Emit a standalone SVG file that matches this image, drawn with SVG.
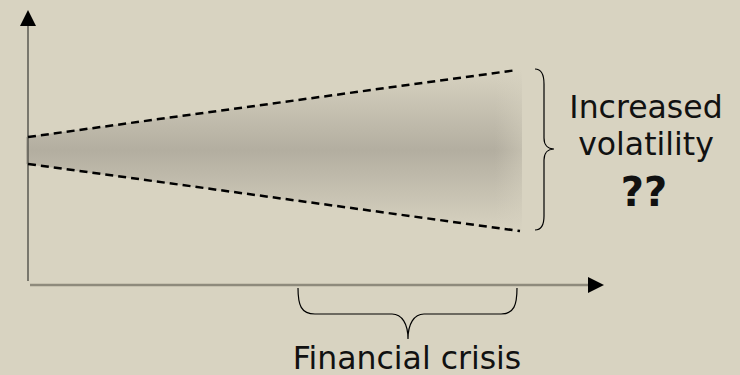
<svg xmlns="http://www.w3.org/2000/svg" width="740" height="375" viewBox="0 0 740 375">
  <defs>
    <linearGradient id="wedgeGrad" gradientUnits="userSpaceOnUse" x1="0" y1="69" x2="0" y2="232">
      <stop offset="0" stop-color="#D8D3C1"/>
      <stop offset="0.5" stop-color="#B3AEA0"/>
      <stop offset="1" stop-color="#D8D3C1"/>
    </linearGradient>
    <linearGradient id="edgeFade" gradientUnits="userSpaceOnUse" x1="495" y1="0" x2="522" y2="0">
      <stop offset="0" stop-color="#D8D3C1" stop-opacity="0"/>
      <stop offset="1" stop-color="#D8D3C1" stop-opacity="0.45"/>
    </linearGradient>
    <marker id="arrow" markerUnits="userSpaceOnUse" viewBox="0 0 16 16" refX="0" refY="8" markerWidth="16" markerHeight="16" orient="auto">
      <path d="M0,0 L16,8 L0,16 Z" fill="#000"/>
    </marker>
  </defs>
  <style>
    .dash { fill: none; stroke: #000; stroke-width: 2.5; stroke-dasharray: 8 5; }
    .brace { fill: none; stroke: #000; stroke-width: 1.2; }
    .label { font-family: "DejaVu Sans", Verdana, sans-serif; font-size: 31.5px; fill: #111; text-anchor: middle; }
    .label.big { font-size: 40px; font-weight: bold; }
  </style>
  <rect x="0" y="0" width="740" height="375" fill="#D8D3C1"/>

  <g id="wedge">
    <polygon points="26,137 522,69 522,232 26,164" fill="url(#wedgeGrad)"/>
    <polygon points="495,72 522,69 522,232 495,228" fill="url(#edgeFade)"/>
  </g>

  <g id="connectors">
    <line id="y-axis" x1="28" y1="281" x2="28" y2="26" stroke="#5A5850" stroke-width="1.5" marker-end="url(#arrow)"/>
    <line id="x-axis" x1="30" y1="285" x2="588" y2="285" stroke="#8E8A7C" stroke-width="2.5" marker-end="url(#arrow)"/>
    <line class="dash" x1="28" y1="137" x2="517" y2="70"/>
    <line class="dash" x1="28" y1="164" x2="520" y2="231"/>
  </g>

  <g id="brace-volatility">
    <path class="brace" d="M535,69 C541,69 544,74 544,84 L544,138 C544,145 548,149 554,149 C548,149 544,153 544,160 L544,216 C544,225 541,230 535,230"/>
  </g>

  <g id="brace-crisis">
    <path class="brace" d="M298,288 C298,305 301,314 315,314 L392,314 C402,314 408,324 408,339 C408,324 414,314 424,314 L501,314 C514,314 517,305 517,288"/>
  </g>

  <g id="label-volatility">
    <text class="label" x="646" y="118">Increased</text>
    <text class="label" x="646" y="155">volatility</text>
    <text class="label big" x="644" y="206">??</text>
  </g>

  <g id="label-crisis">
    <text class="label" x="407" y="369">Financial crisis</text>
  </g>
</svg>
